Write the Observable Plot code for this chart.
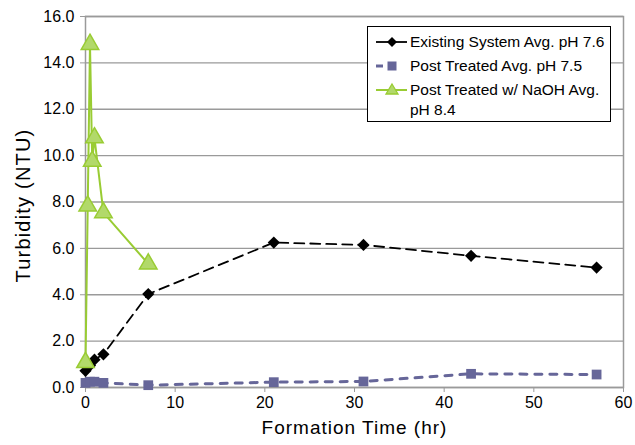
<!DOCTYPE html>
<html><head><meta charset="utf-8">
<script src="https://cdn.jsdelivr.net/npm/d3@7"></script>
<script src="https://cdn.jsdelivr.net/npm/@observablehq/plot@0.6"></script>
<style>
body{margin:0;background:#fff;font-family:"Liberation Sans",Arial,sans-serif;}
#wrap{position:relative;width:635px;height:445px;}
#legend{position:absolute;left:367px;top:26px;width:244px;height:96px;border:1px solid #000;box-sizing:border-box;background:#fff;font-size:15.5px;color:#000;}
#legend .row{position:absolute;left:0;display:flex;align-items:flex-start;}
#legend svg{display:block;}
</style></head><body><div id="wrap"></div>
<script>
// Existing System Avg. pH 7.6
const timeExisting = [0, 0.5, 1, 2, 7, 21, 31, 43, 57];
const turbExisting = [0.72, 0.95, 1.2, 1.43, 4.03, 6.25, 6.15, 5.68, 5.17];
// Post Treated Avg. pH 7.5
const timePost = [0, 0.5, 1, 2, 7, 21, 31, 43, 57];
const turbPost = [0.2, 0.25, 0.25, 0.2, 0.1, 0.23, 0.26, 0.59, 0.56];
// Post Treated w/ NaOH Avg. pH 8.4
const timeNaOH = [0, 0.25, 0.5, 0.75, 1, 2, 7];
const turbNaOH = [1.08, 7.83, 14.8, 9.76, 10.77, 7.54, 5.33];

const seriesNames = ["Existing System Avg. pH 7.6", "Post Treated Avg. pH 7.5", "Post Treated w/ NaOH Avg. pH 8.4"];
const xTicks = [0, 10, 20, 30, 40, 50, 60];
const yTicks = [0, 2, 4, 6, 8, 10, 12, 14, 16];
const xTitle = "Formation Time (hr)";
const yTitle = "Turbidity (NTU)";

const toRows = (xs, ys) => xs.map((x, i) => ({x, y: ys[i]}));
const existing = toRows(timeExisting, turbExisting);
const post = toRows(timePost, turbPost);
const naoh = toRows(timeNaOH, turbNaOH);

const cBlack = "#000000", cBlue = "#666699", cGreen = "#99cc33", cGreenFill = "#b2d96a";
const gridC = "#9a9a9a";

const chart = Plot.plot({
  width: 635, height: 445,
  marginLeft: 85, marginRight: 12, marginTop: 16, marginBottom: 58,
  style: {fontFamily: "Liberation Sans, Arial, sans-serif", fontSize: "16px", color: "#000", background: "#fff", overflow: "visible"},
  x: {domain: [0, 60], ticks: xTicks},
  y: {domain: [0, 16], ticks: yTicks},
  marks: [
    Plot.gridY(yTicks, {stroke: gridC, strokeOpacity: 1, strokeWidth: 1.3}),
    Plot.frame({stroke: gridC, strokeWidth: 1.5}),
    Plot.axisX({ticks: xTicks, tickSize: 5, tickPadding: 4, fontSize: 16, label: null, stroke: gridC, color: "#000"}),
    Plot.axisY({ticks: yTicks, tickSize: 5, tickPadding: 6, fontSize: 16, label: null, tickFormat: d3.format(".1f"), stroke: gridC}),
    Plot.text([xTitle], {frameAnchor: "bottom", textAnchor: "middle", dy: 46.5, fontSize: 19, fill: "#000"}),
    Plot.text([yTitle], {frameAnchor: "left", textAnchor: "middle", dx: -62, dy: 3.5, rotate: -90, fontSize: 20, fill: "#000"}),
    Plot.line(post, {x: "x", y: "y", stroke: cBlue, strokeWidth: 3, strokeDasharray: "7,8"}),
    Plot.line(existing, {x: "x", y: "y", stroke: cBlack, strokeWidth: 1.8, strokeDasharray: "10,6"}),
    Plot.line(naoh, {x: "x", y: "y", stroke: cGreen, strokeWidth: 2}),
    Plot.dot(post, {x: "x", y: "y", symbol: "square", r: 5.5, fill: cBlue, stroke: "none"}),
    Plot.dot(existing, {x: "x", y: "y", symbol: "diamond2", r: 5.5, fill: cBlack, stroke: "none"}),
    Plot.dot(naoh, {x: "x", y: "y", symbol: "triangle", r: 6.5, fill: cGreenFill, stroke: cGreen, strokeWidth: 1.5})
  ]
});
d3.select(chart).selectAll("text").each(function() {
  const t = this.textContent;
  if (t === xTitle) this.setAttribute("letter-spacing", "1px");
  if (t === yTitle) this.setAttribute("letter-spacing", "1.2px");
});
document.getElementById("wrap").appendChild(chart);

// Legend
const legend = document.createElement("div");
legend.id = "legend";
const swatches = [
  {name: seriesNames[0], stroke: cBlack, w: 1.8, sym: "diamond"},
  {name: seriesNames[1], stroke: cBlue, w: 3, sym: "square"},
  {name: seriesNames[2], stroke: cGreen, w: 2, sym: "triangle"}
];
const tops = [6, 30, 54];
swatches.forEach((s, i) => {
  const row = document.createElement("div");
  row.className = "row";
  row.style.top = tops[i] + "px";
  let symSvg = "";
  if (s.sym === "diamond") symSvg = `<path d="M24,4 L29,9 L24,14 L19,9 Z" fill="${cBlack}"/>`;
  if (s.sym === "square") symSvg = `<rect x="19.5" y="4.5" width="9" height="9" fill="${cBlue}"/>`;
  if (s.sym === "triangle") symSvg = `<path d="M24,3 L30,13 L18,13 Z" fill="${cGreenFill}" stroke="${cGreen}" stroke-width="1.3"/>`;
  const lineSvg = s.sym === "square"
    ? `<line x1="8" y1="9" x2="15" y2="9" stroke="${s.stroke}" stroke-width="${s.w}"/>`
    : `<line x1="8" y1="9" x2="39" y2="9" stroke="${s.stroke}" stroke-width="${s.w}"/>`;
  row.innerHTML = `<svg width="42" height="18">${lineSvg}${symSvg}</svg><div style="line-height:20px;margin-top:-1px;">${s.name === seriesNames[2] ? "Post Treated w/ NaOH Avg.<br>pH 8.4" : s.name}</div>`;
  legend.appendChild(row);
});
document.getElementById("wrap").appendChild(legend);
</script>
</body></html>
